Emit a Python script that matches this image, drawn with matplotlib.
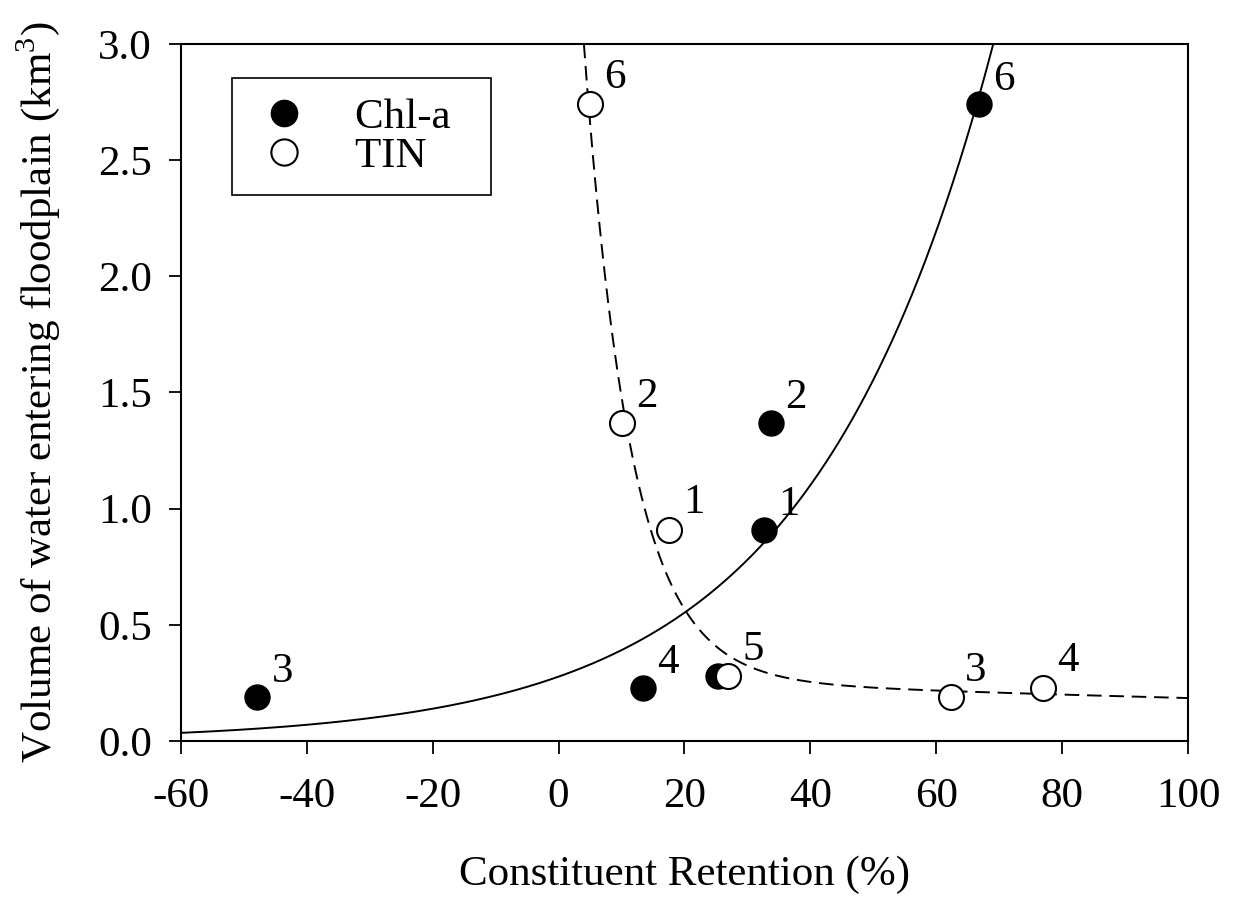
import numpy as np
import matplotlib.pyplot as plt

plt.rcParams['font.family'] = ['Liberation Serif', 'DejaVu Serif']
plt.rcParams['mathtext.fontset'] = 'custom'
plt.rcParams['mathtext.rm'] = 'Liberation Serif'
plt.rcParams['axes.unicode_minus'] = False

# Chl-a retention (%) vs volume entering floodplain (km3), labelled by event
chl_x = [-47.9, 13.4, 25.3, 32.6, 33.7, 66.8]
chl_y = [0.19, 0.23, 0.28, 0.91, 1.37, 2.74]
chl_lab = ['3', '4', '', '1', '2', '6']

# TIN retention
tin_x = [5.0, 10.1, 17.5, 26.9, 62.3, 77.0]
tin_y = [2.74, 1.37, 0.91, 0.28, 0.19, 0.23]
tin_lab = ['6', '2', '1', '5', '3', '4']

# fitted curves (parameters)
chl_a, chl_b = 0.277, 0.0345                 # y = a*exp(b*x)
tin_a, tin_b, tin_c, tin_d = 4.70, 0.135, 0.272, 0.00387   # y = a*exp(-b*x) + c*exp(-d*x)

FS = 31

fig, ax = plt.subplots(figsize=(12.36, 9.01), dpi=100)
fig.subplots_adjust(left=0.1464, right=0.9612, top=0.9512, bottom=0.1776)

xs = np.linspace(-60, 100, 600)
ax.plot(xs, chl_a * np.exp(chl_b * xs), color='black', lw=1.4)
xt = np.linspace(3.5, 100, 600)
ax.plot(xt, tin_a * np.exp(-tin_b * xt) + tin_c * np.exp(-tin_d * xt),
        color='black', lw=1.4, linestyle=(0, (7.5, 4)))

h_chl, = ax.plot(chl_x, chl_y, 'o', color='black', markersize=18, zorder=3)
h_tin, = ax.plot(tin_x, tin_y, 'o', markerfacecolor='white', markeredgecolor='black',
                 markeredgewidth=1.5, markersize=18, zorder=3)

for x, y, s in zip(chl_x, chl_y, chl_lab):
    ax.annotate(s, (x, y), xytext=(18, 18), textcoords='offset points',
                fontsize=FS, ha='center', va='center')
for x, y, s in zip(tin_x, tin_y, tin_lab):
    ax.annotate(s, (x, y), xytext=(18, 19), textcoords='offset points',
                fontsize=FS, ha='center', va='center')

ax.set_xlim(-60, 100)
ax.set_ylim(0, 3.0)
ax.set_xticks(np.arange(-60, 101, 20))
ax.set_yticks(np.arange(0, 3.01, 0.5))
ax.set_yticklabels([f'{v:.1f}' for v in np.arange(0, 3.01, 0.5)])
ax.tick_params(direction='out', length=9, width=1.3, labelsize=FS,
               top=False, right=False)
ax.tick_params(axis='x', pad=17)
ax.tick_params(axis='y', pad=12)
for sp in ax.spines.values():
    sp.set_linewidth(1.5)

ax.set_xlabel('Constituent Retention (%)', fontsize=FS, labelpad=29)
ax.set_ylabel('Volume of water entering floodplain (km$^3$)', fontsize=FS, labelpad=26)

leg = ax.legend([h_chl, h_tin], ['Chl-a  ', 'TIN  '], loc='upper left',
                bbox_to_anchor=(0.0506, 0.951), borderaxespad=0, fontsize=FS,
                frameon=True, fancybox=False, edgecolor='black', framealpha=1,
                markerscale=1.05, handlelength=1.5, handletextpad=0.9,
                borderpad=0.45, labelspacing=0.0)
leg.get_frame().set_linewidth(1.2)

fig.savefig('out.png', dpi=100)
